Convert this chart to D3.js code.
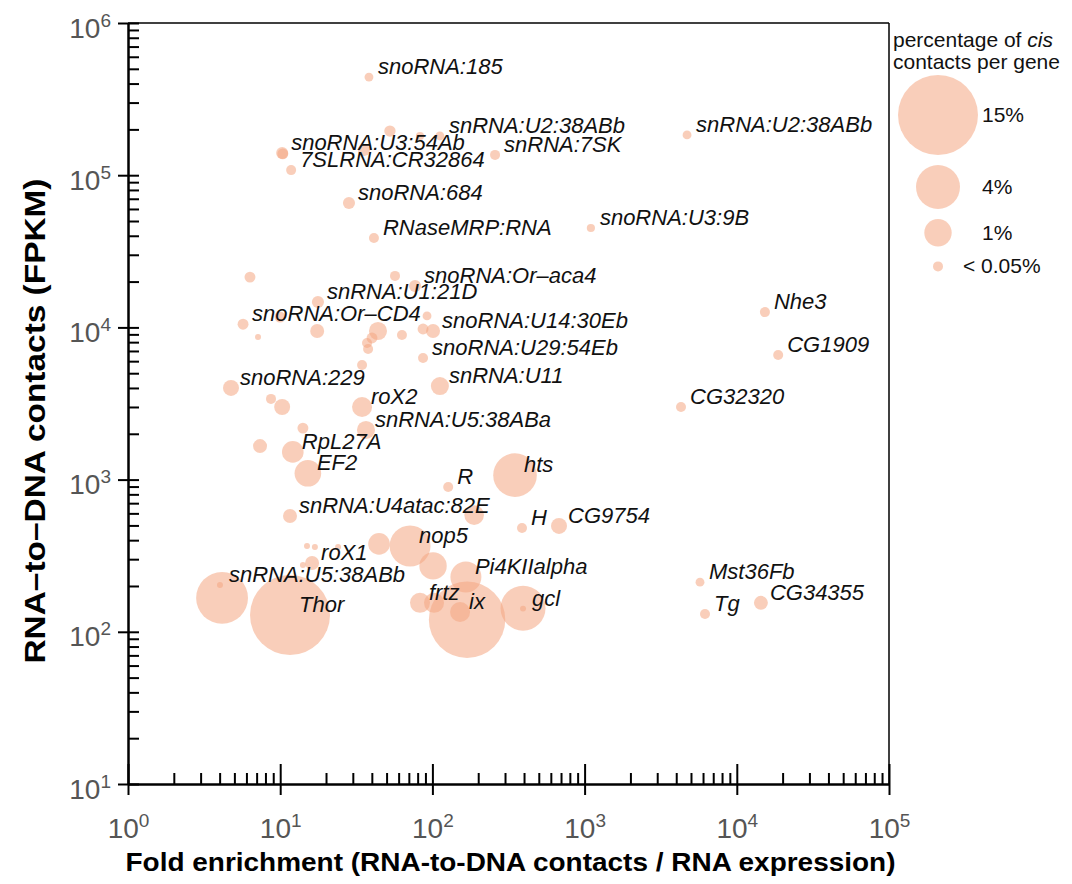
<!DOCTYPE html>
<html><head><meta charset="utf-8">
<script src="https://cdn.jsdelivr.net/npm/d3@7"></script>
<style>
body{margin:0;background:#fff}
svg{display:block;font-family:"Liberation Sans",Arial,Helvetica,sans-serif}
</style>
</head><body>
<svg id="chart" width="1072" height="884"></svg>
<script>
// ---------- data ----------
const genes = [
  "snoRNA:185","snoRNA:U3:54Ab","","7SLRNA:CR32864","","","","snRNA:U2:38ABb","snRNA:7SK","snRNA:U2:38ABb",
  "snoRNA:684","RNaseMRP:RNA","snoRNA:U3:9B","","","snoRNA:Or\u2013aca4","snRNA:U1:21D","snoRNA:Or\u2013CD4","","",
  "","","","","","snoRNA:U14:30Eb","","","","",
  "snoRNA:U29:54Eb","snoRNA:229","","","roX2","snRNA:U11","snRNA:U5:38ABa","","","RpL27A",
  "EF2","R","hts","snRNA:U4atac:82E","","H","CG9754","","nop5","",
  "","","","roX1","","snRNA:U5:38ABb","","Thor","Pi4KIIalpha","frtz",
  "","","ix","","gcl","CG32320","Nhe3","CG1909","Mst36Fb","Tg",
  "CG34355"
];
const foldEnrichment = [
  38.3,10.3,10.4,11.8,35.5,52.6,82.9,112,258,4710,
  28.3,41.3,1100,6.33,56.8,76.9,17.7,5.7,9.97,7.15,
  17.5,43.9,63.1,92.2,86.8,101,37.2,40.1,37.8,34.5,
  86.8,4.75,8.7,10.3,34.5,112,36.6,14.1,7.37,12.1,
  15.2,127,349,11.6,188,388,679,44.6,71.3,101,
  15.0,16.9,24.0,16.2,14.1,4.02,4.15,11.6,166,82.9,
  102.5,169,152,394,394,4300,15300,18700,5730,6180,
  14400
];
const contactsFPKM = [
  441000,140000,138000,108000,146500,195000,181000,181000,136000,184000,
  65700,38700,45000,21400,21800,18700,14700,10500,11700,8650,
  9470,9470,8910,11900,9760,9470,7900,8520,7220,5660,
  6290,4000,3390,3000,3000,4120,2120,2180,1660,1520,
  1100,894,1070,577,585,481,496,378,366,271,
  366,361,361,283,275,203,167,129,229,155,
  155,120,135,143,142,3000,12600,6590,212,131,
  155
];
const cisPercent = [
  0.03,0.1,0.07,0.05,0.1,0.08,0.02,0.03,0.05,0.03,
  0.1,0.05,0.02,0.07,0.05,0.1,0.1,0.07,0.07,0.002,
  0.16,0.34,0.05,0.03,0.07,0.16,0.05,0.07,0.05,0.05,
  0.05,0.24,0.05,0.24,0.45,0.34,0.34,0.07,0.16,0.55,
  0.93,0.05,3.9,0.16,0.43,0.05,0.24,0.55,3.3,1.0,
  0.002,0.002,0.002,0.16,0.002,0.002,5.8,15,1.48,0.45,
  0.45,13.6,0.45,4.2,0.002,0.05,0.05,0.05,0.03,0.05,
  0.16
];
const xTickValues = [1, 10, 100, 1000, 10000, 100000];
const yTickValues = [10, 100, 1000, 10000, 100000, 1000000];
const legendPercent = [15, 4, 1, 0.05];
const legendLabels = ["15%", "4%", "1%", "< 0.05%"];

// ---------- chart ----------
const svg = d3.select("#chart");
const L = 128, R = 889, T = 23, B = 784;
const x = d3.scaleLog().domain([1, 1e5]).range([L, R]);
const y = d3.scaleLog().domain([10, 1e6]).range([B, T]);
const r = d3.scaleSqrt().domain([0.05, 1, 4, 15]).range([5, 13.7, 22, 40]);
const fill = "#f4a582", fillOp = 0.55;

function minorTicks(vals){
  const out = [];
  for (let i = 0; i < vals.length - 1; i++) for (let k = 2; k < 10; k++) out.push(k * vals[i]);
  return out;
}

// frame (top and right)
svg.append("line").attr("x1", L).attr("x2", R).attr("y1", T).attr("y2", T)
  .attr("stroke", "#000").attr("stroke-width", 1.5);
svg.append("line").attr("x1", R).attr("x2", R).attr("y1", T).attr("y2", B)
  .attr("stroke", "#000").attr("stroke-width", 1.5);

function styleAxis(g){
  g.attr("font-family", null).attr("font-size", null);
  g.selectAll(".tick line").attr("stroke", "#000").attr("stroke-width", 2);
  g.select(".domain").attr("stroke", "#000").attr("stroke-width", 2.5);
}

// x axis
const gx = svg.append("g").attr("transform", `translate(0,${B})`);
gx.append("g").call(d3.axisBottom(x).tickValues(minorTicks(xTickValues)).tickSize(-11).tickSizeOuter(0).tickFormat(""))
  .call(styleAxis).call(g => g.select(".domain").remove());
gx.append("g").call(d3.axisBottom(x).tickValues(xTickValues).tickSize(-20).tickSizeOuter(0).tickFormat(""))
  .call(styleAxis).call(g => g.select(".domain").remove());
const gxM = gx.append("g").call(d3.axisBottom(x).tickValues(xTickValues).tickSize(11).tickSizeOuter(0).tickFormat(""))
  .call(styleAxis);
gxM.selectAll(".tick text").attr("y", 54).attr("dy", null)
  .attr("font-size", 28).attr("fill", "#555").attr("text-anchor", "middle")
  .each(function(d){
    const t = d3.select(this);
    t.append("tspan").text("10");
    t.append("tspan").attr("dy", -11).attr("font-size", 19).text(Math.round(Math.log10(d)));
  });

// y axis
const gy = svg.append("g").attr("transform", `translate(${L},0)`);
gy.append("g").call(d3.axisLeft(y).tickValues(minorTicks(yTickValues)).tickSize(-11).tickSizeOuter(0).tickFormat(""))
  .call(styleAxis).call(g => g.select(".domain").remove());
gy.append("g").call(d3.axisLeft(y).tickValues(yTickValues).tickSize(-11).tickSizeOuter(0).tickFormat(""))
  .call(styleAxis).call(g => g.select(".domain").remove());
const gyM = gy.append("g").call(d3.axisLeft(y).tickValues(yTickValues).tickSize(10).tickSizeOuter(0).tickFormat(""))
  .call(styleAxis);
gyM.selectAll(".tick text").attr("x", -17).attr("dy", null).attr("y", 14)
  .attr("font-size", 28).attr("fill", "#555").attr("text-anchor", "end")
  .each(function(d){
    const t = d3.select(this);
    t.append("tspan").text("10");
    t.append("tspan").attr("dy", -11).attr("font-size", 19).text(Math.round(Math.log10(d)));
  });

// axis titles
svg.append("text").attr("x", (L + R) / 2 + 2).attr("y", 871).attr("text-anchor", "middle")
  .attr("font-size", 26).attr("font-weight", "bold").attr("fill", "#000")
  .attr("textLength", 770).attr("lengthAdjust", "spacingAndGlyphs")
  .text("Fold enrichment (RNA-to-DNA contacts / RNA expression)");
svg.append("text").attr("transform", "translate(45,421) rotate(-90)").attr("text-anchor", "middle")
  .attr("font-size", 30).attr("font-weight", "bold").attr("fill", "#000")
  .attr("textLength", 485).attr("lengthAdjust", "spacingAndGlyphs")
  .text("RNA\u2013to\u2013DNA contacts (FPKM)");

// points
const pts = genes.map((g, i) => ({ g, fx: foldEnrichment[i], c: contactsFPKM[i], p: cisPercent[i] }));
svg.append("g").selectAll("circle").data(pts).join("circle")
  .attr("cx", d => x(d.fx)).attr("cy", d => y(d.c)).attr("r", d => r(d.p))
  .attr("fill", fill).attr("fill-opacity", fillOp);
svg.append("g").selectAll("text").data(pts.filter(d => d.g)).join("text")
  .attr("x", d => x(d.fx) + 9).attr("y", d => y(d.c) - 3)
  .attr("font-size", 22).attr("font-style", "italic").attr("fill", "#111")
  .text(d => d.g);

// legend
const lg = svg.append("g");
const lt = lg.append("text").attr("x", 893).attr("y", 47).attr("font-size", 21).attr("fill", "#111");
lt.append("tspan").text("percentage of ");
lt.append("tspan").attr("font-style", "italic").text("cis");
lg.append("text").attr("x", 893).attr("y", 69).attr("font-size", 21).attr("fill", "#111").text("contacts per gene");
let cy = 75;
const gaps = [0, 10, 10, 15];
legendPercent.forEach((p, i) => {
  const rr = r(p);
  cy += gaps[i] + rr;
  lg.append("circle").attr("cx", 938).attr("cy", cy).attr("r", rr).attr("fill", fill).attr("fill-opacity", fillOp);
  lg.append("text").attr("x", i === 3 ? 963 : 982).attr("y", cy + 7).attr("font-size", 21).attr("fill", "#111")
    .text(legendLabels[i]);
  cy += rr;
});
</script>
</body></html>
